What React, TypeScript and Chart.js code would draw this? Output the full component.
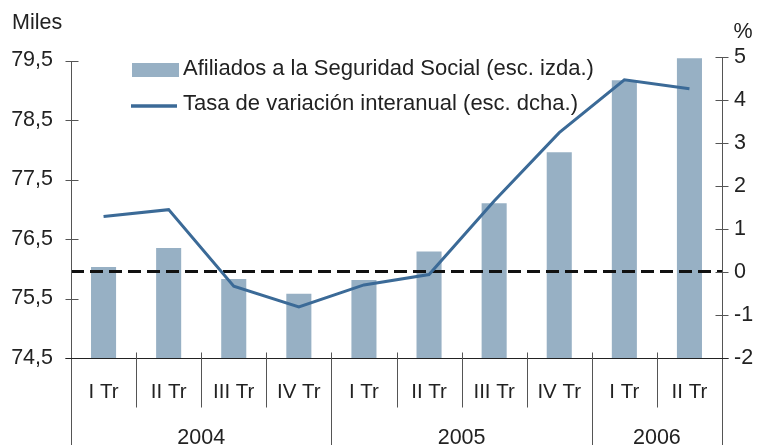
import React, { useEffect, useRef } from 'react';
import { Chart, registerables } from 'chart.js';

Chart.register(...registerables);

const quarters = ['I Tr', 'II Tr', 'III Tr', 'IV Tr', 'I Tr', 'II Tr', 'III Tr', 'IV Tr', 'I Tr', 'II Tr'];
const yearLabels = ['2004', '2005', '2006'];
const yearSpans = [4, 4, 2];
const afiliados = [76.03, 76.35, 75.83, 75.58, 75.81, 76.29, 77.1, 77.96, 79.17, 79.54];
const tasa = [1.29, 1.45, -0.33, -0.81, -0.3, -0.06, 1.65, 3.24, 4.47, 4.26];
const leftTicks = [74.5, 75.5, 76.5, 77.5, 78.5, 79.5];
const rightTicks = [-2, -1, 0, 1, 2, 3, 4, 5];
const legendLabels = [
  'Afiliados a la Seguridad Social (esc. izda.)',
  'Tasa de variación interanual (esc. dcha.)',
];
const leftTitle = 'Miles';
const rightTitle = '%';

const FONT = '"Liberation Sans", Arial, Helvetica, sans-serif';
const BAR_COLOR = '#97b0c4';
const LINE_COLOR = '#3b6a97';
const TEXT_COLOR = '#222222';
const AXIS_COLOR = '#555555';

const decorPlugin = {
  id: 'decor',
  afterDatasetDraw(chart: any, args: any) {
    if (args.meta.type !== 'bar') return;
    const { ctx, chartArea } = chart;
    const y1 = chart.scales.y1;
    const yz = Math.round(y1.getPixelForValue(0)) - 0.5;
    ctx.save();
    ctx.strokeStyle = '#111111';
    ctx.lineWidth = 3;
    ctx.setLineDash([13, 6]);
    ctx.beginPath();
    ctx.moveTo(chartArea.left, yz);
    ctx.lineTo(chartArea.right, yz);
    ctx.stroke();
    ctx.restore();
  },
  afterDraw(chart: any) {
    const { ctx, chartArea } = chart;
    const x = chart.scales.x;
    const y = chart.scales.y;
    const y1 = chart.scales.y1;
    const H = chart.height;
    const left = Math.round(chartArea.left) + 0.5;
    const right = Math.round(chartArea.right) + 0.5;
    const bottom = Math.round(chartArea.bottom) + 0.5;
    ctx.save();
    ctx.lineWidth = 1;
    ctx.setLineDash([]);

    // left axis
    ctx.strokeStyle = AXIS_COLOR;
    ctx.beginPath();
    ctx.moveTo(left, Math.round(y.getPixelForValue(leftTicks[leftTicks.length - 1])));
    ctx.lineTo(left, H);
    ctx.stroke();
    leftTicks.forEach((v) => {
      const py = Math.round(y.getPixelForValue(v)) + 0.5;
      ctx.beginPath();
      ctx.moveTo(left - 6, py);
      ctx.lineTo(left + 7, py);
      ctx.stroke();
    });

    // right axis
    ctx.beginPath();
    ctx.moveTo(right, Math.round(y1.getPixelForValue(rightTicks[rightTicks.length - 1])));
    ctx.lineTo(right, H);
    ctx.stroke();
    rightTicks.forEach((v) => {
      const py = Math.round(y1.getPixelForValue(v)) + 0.5;
      ctx.beginPath();
      ctx.moveTo(right - 7, py);
      ctx.lineTo(right + 6, py);
      ctx.stroke();
    });

    // bottom axis
    ctx.strokeStyle = '#222222';
    ctx.beginPath();
    ctx.moveTo(left - 6, bottom);
    ctx.lineTo(right + 6, bottom);
    ctx.stroke();

    // separators
    ctx.strokeStyle = AXIS_COLOR;
    const yearBounds: number[] = [];
    let acc = 0;
    yearSpans.forEach((s) => {
      acc += s;
      yearBounds.push(acc);
    });
    for (let i = 1; i < quarters.length; i++) {
      const bx = Math.round((x.getPixelForValue(i - 1) + x.getPixelForValue(i)) / 2) + 0.5;
      const isYear = yearBounds.indexOf(i) >= 0;
      ctx.beginPath();
      ctx.moveTo(bx, bottom - 6);
      ctx.lineTo(bx, isYear ? H : bottom + 49);
      ctx.stroke();
    }

    // category labels
    ctx.fillStyle = TEXT_COLOR;
    ctx.font = `20.5px ${FONT}`;
    ctx.textAlign = 'center';
    ctx.textBaseline = 'middle';
    quarters.forEach((q, i) => {
      ctx.fillText(q, x.getPixelForValue(i), bottom + 34);
    });

    // year labels
    ctx.font = `21.5px ${FONT}`;
    let start = 0;
    yearLabels.forEach((yl, k) => {
      const end = start + yearSpans[k] - 1;
      const cx = (x.getPixelForValue(start) + x.getPixelForValue(end)) / 2;
      ctx.fillText(yl, cx, bottom + 80);
      start += yearSpans[k];
    });

    // titles
    ctx.textAlign = 'left';
    ctx.fillText(leftTitle, 12, 23);
    ctx.textAlign = 'center';
    ctx.fillText(rightTitle, 743, 32);

    // legend
    ctx.font = `22px ${FONT}`;
    ctx.textAlign = 'left';
    ctx.fillStyle = BAR_COLOR;
    ctx.fillRect(132, 63, 47, 14);
    ctx.fillStyle = TEXT_COLOR;
    ctx.fillText(legendLabels[0], 183, 68.5);
    ctx.strokeStyle = LINE_COLOR;
    ctx.lineWidth = 3.5;
    ctx.beginPath();
    ctx.moveTo(131, 106);
    ctx.lineTo(177, 106);
    ctx.stroke();
    ctx.fillText(legendLabels[1], 183, 103.5);

    ctx.restore();
  },
};

export default function App() {
  const canvasRef = useRef<HTMLCanvasElement | null>(null);

  useEffect(() => {
    if (!canvasRef.current) return;
    const chart = new Chart(canvasRef.current, {
      type: 'bar',
      data: {
        labels: quarters,
        datasets: [
          {
            type: 'line',
            label: legendLabels[1],
            data: tasa,
            yAxisID: 'y1',
            borderColor: LINE_COLOR,
            borderWidth: 3,
            pointRadius: 0,
            borderJoinStyle: 'miter',
            fill: false,
            tension: 0,
            order: 0,
          } as any,
          {
            type: 'bar',
            label: legendLabels[0],
            data: afiliados,
            yAxisID: 'y',
            backgroundColor: BAR_COLOR,
            barPercentage: 0.385,
            categoryPercentage: 1,
            order: 1,
          } as any,
        ],
      },
      options: {
        animation: false,
        responsive: true,
        maintainAspectRatio: false,
        layout: { padding: { top: 57, bottom: 87, left: 0, right: 0 } },
        plugins: {
          legend: { display: false },
          tooltip: { enabled: false },
        },
        scales: {
          x: {
            type: 'category',
            display: false,
            offset: true,
          },
          y: {
            type: 'linear',
            position: 'left',
            min: 74.5,
            max: 79.56,
            grid: { display: false, drawTicks: false },
            border: { display: false },
            afterBuildTicks: (s: any) => {
              s.ticks = leftTicks.map((v) => ({ value: v }));
            },
            afterFit: (s: any) => {
              s.width = 71;
            },
            ticks: {
              padding: 18,
              color: TEXT_COLOR,
              font: { family: FONT, size: 21.5 },
              callback: (v: any) => Number(v).toFixed(1).replace('.', ','),
            },
          },
          y1: {
            type: 'linear',
            position: 'right',
            min: -2,
            max: 5,
            grid: { display: false, drawTicks: false },
            border: { display: false },
            afterBuildTicks: (s: any) => {
              s.ticks = rightTicks.map((v) => ({ value: v }));
            },
            afterFit: (s: any) => {
              s.width = 37;
            },
            ticks: {
              padding: 12,
              color: TEXT_COLOR,
              font: { family: FONT, size: 21.5 },
              callback: (v: any) => String(v),
            },
          },
        },
      } as any,
      plugins: [decorPlugin],
    });
    return () => chart.destroy();
  }, []);

  return (
    <div style={{ position: 'fixed', left: 0, top: 0, width: 759, height: 445, background: '#ffffff' }}>
      <canvas ref={canvasRef} />
    </div>
  );
}
